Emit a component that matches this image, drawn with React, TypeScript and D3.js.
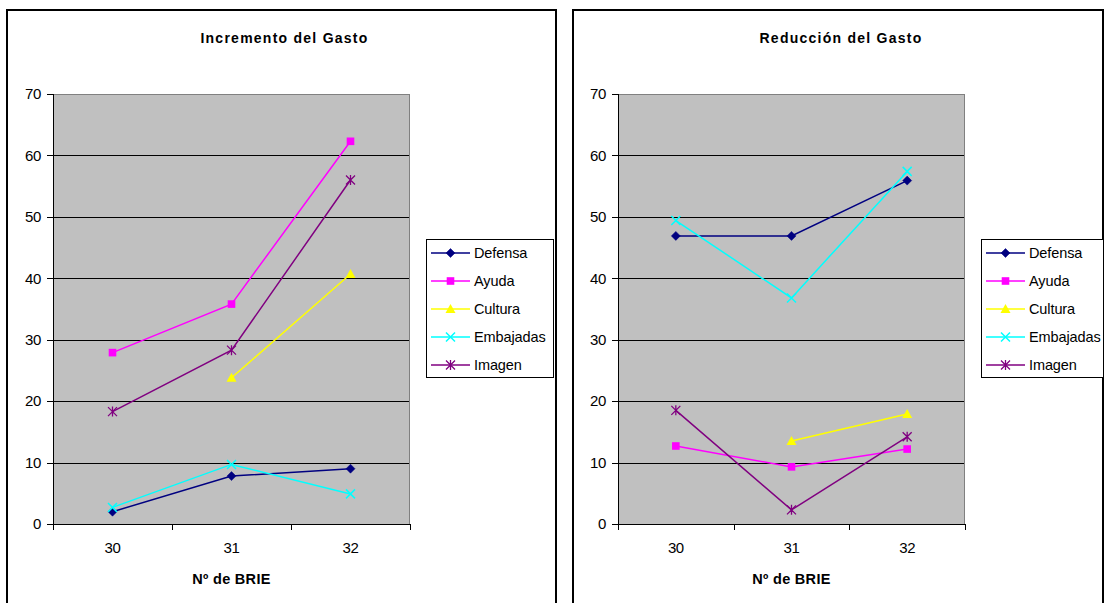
import React from "react";
import * as d3 from "d3";

const categories = ["30", "31", "32"];
const seriesNames = ["Defensa", "Ayuda", "Cultura", "Embajadas", "Imagen"];
const seriesColors = ["#000080", "#FF00FF", "#FFFF00", "#00FFFF", "#800080"];
const seriesMarkers = ["diamond", "square", "triangle", "x", "star"];
const yTicks = [0, 10, 20, 30, 40, 50, 60, 70];

// Incremento del Gasto
const incDefensa = [2.0, 7.8, 9.0];
const incAyuda = [27.9, 35.8, 62.3];
const incCultura = [null, 23.8, 40.7];
const incEmbajadas = [2.7, 9.7, 4.9];
const incImagen = [18.3, 28.3, 56.0];

// Reducción del Gasto
const redDefensa = [46.9, 46.9, 55.9];
const redAyuda = [12.7, 9.3, 12.2];
const redCultura = [null, 13.5, 17.9];
const redEmbajadas = [49.4, 36.8, 57.4];
const redImagen = [18.5, 2.3, 14.2];

const FONT = "'Liberation Sans', Arial, sans-serif";

type P = {
  title: string;
  values: (number | null)[][];
  border: [number, number, number, number];
  plot: [number, number, number, number];
  legend: [number, number, number, number];
};

function Marker({ kind, x, y, color }: { kind: string; x: number; y: number; color: string }) {
  if (kind === "diamond") {
    const s = 4.5;
    return <path d={`M${x},${y - s}L${x + s},${y}L${x},${y + s}L${x - s},${y}Z`} fill={color} stroke={color} strokeWidth={0.5} />;
  }
  if (kind === "square") {
    const s = 3.8;
    return <rect x={x - s} y={y - s} width={2 * s} height={2 * s} fill={color} />;
  }
  if (kind === "triangle") {
    const s = 5;
    return <path d={`M${x},${y - s}L${x + s},${y + s * 0.8}L${x - s},${y + s * 0.8}Z`} fill={color} />;
  }
  if (kind === "x") {
    const s = 4.5;
    return <path d={`M${x - s},${y - s}L${x + s},${y + s}M${x - s},${y + s}L${x + s},${y - s}`} stroke={color} strokeWidth={1.5} fill="none" />;
  }
  const s = 4.5;
  return (
    <path
      d={`M${x - s},${y - s}L${x + s},${y + s}M${x - s},${y + s}L${x + s},${y - s}M${x},${y - s - 0.5}L${x},${y + s + 0.5}`}
      stroke={color}
      strokeWidth={1.3}
      fill="none"
    />
  );
}

function Panel({ title, values, border, plot, legend }: P) {
  const [bx, by, bw, bh] = border;
  const [px, py, pw, ph] = plot;
  const [lx, ly, lw, lh] = legend;
  const x = d3.scaleBand<string>().domain(categories).range([px, px + pw]);
  const y = d3.scaleLinear().domain([0, 70]).range([py + ph, py]);
  const cx = (c: string) => (x(c) as number) + x.bandwidth() / 2;
  const line = d3
    .line<number | null>()
    .defined((d) => d !== null)
    .x((_, i) => cx(categories[i]))
    .y((d) => y(d as number));
  const boundaries = [0, 1, 2, 3].map((i) => px + i * x.bandwidth());
  return (
    <g>
      <rect x={bx} y={by} width={bw} height={bh} fill="#fff" stroke="#000" strokeWidth={2} />
      <text x={bx + bw / 2 + 3} y={42.5} textAnchor="middle" fontFamily={FONT} fontWeight="bold" fontSize={14} letterSpacing={1.25} fill="#000">
        {title}
      </text>
      <rect x={px} y={py} width={pw} height={ph} fill="#C0C0C0" />
      {yTicks.slice(1, -1).map((t) => (
        <line key={t} x1={px} x2={px + pw} y1={Math.round(y(t)) + 0.5} y2={Math.round(y(t)) + 0.5} stroke="#000" strokeWidth={1} />
      ))}
      <line x1={px} x2={px + pw} y1={py + 0.5} y2={py + 0.5} stroke="#808080" />
      <line x1={px + pw - 0.5} x2={px + pw - 0.5} y1={py} y2={py + ph} stroke="#808080" />
      <line x1={px + 0.5} x2={px + 0.5} y1={py} y2={py + ph} stroke="#000" />
      <line x1={px} x2={px + pw} y1={py + ph + 0.5} y2={py + ph + 0.5} stroke="#000" />
      {yTicks.map((t) => (
        <g key={t}>
          <line x1={px - 6} x2={px} y1={Math.round(y(t)) + 0.5} y2={Math.round(y(t)) + 0.5} stroke="#000" />
          <text x={px - 12} y={y(t) + 5.3} textAnchor="end" fontFamily={FONT} fontSize={15} letterSpacing={-0.4} fill="#000">
            {t}
          </text>
        </g>
      ))}
      {boundaries.map((b, i) => (
        <line key={i} x1={Math.round(b) + 0.5} x2={Math.round(b) + 0.5} y1={py + ph} y2={py + ph + 6} stroke="#000" />
      ))}
      {categories.map((c) => (
        <text key={c} x={cx(c)} y={py + ph + 29} textAnchor="middle" fontFamily={FONT} fontSize={15} letterSpacing={-0.4} fill="#000">
          {c}
        </text>
      ))}
      <text x={px + pw / 2} y={583.5} textAnchor="middle" fontFamily={FONT} fontWeight="bold" fontSize={14.5} letterSpacing={0.3} fill="#000">
        Nº de BRIE
      </text>
      {values.map((vals, si) => (
        <g key={si}>
          <path d={line(vals) || ""} fill="none" stroke={seriesColors[si]} strokeWidth={1.5} />
          {vals.map((v, i) =>
            v === null ? null : <Marker key={i} kind={seriesMarkers[si]} x={cx(categories[i])} y={y(v)} color={seriesColors[si]} />
          )}
        </g>
      ))}
      <rect x={lx + 0.5} y={ly + 0.5} width={lw} height={lh} fill="#fff" stroke="#000" strokeWidth={1} />
      {seriesNames.map((n, i) => {
        const yy = ly + 14 + i * 28;
        return (
          <g key={n}>
            <line x1={lx + 5} x2={lx + 44} y1={yy} y2={yy} stroke={seriesColors[i]} strokeWidth={1.5} />
            <Marker kind={seriesMarkers[i]} x={lx + 24.5} y={yy} color={seriesColors[i]} />
            <text x={lx + 48} y={yy + 5.2} fontFamily={FONT} fontSize={14.5} letterSpacing={-0.1} fill="#000">
              {n}
            </text>
          </g>
        );
      })}
    </g>
  );
}

export default function App() {
  return (
    <svg width={1107} height={603} style={{ position: "absolute", left: 0, top: 0, background: "#fff" }}>
      <rect x={0} y={0} width={1107} height={603} fill="#fff" />
      <Panel
        title="Incremento del Gasto"
        values={[incDefensa, incAyuda, incCultura, incEmbajadas, incImagen]}
        border={[7, 10, 549, 600]}
        plot={[53, 94, 357, 430]}
        legend={[426, 239, 127, 138]}
      />
      <Panel
        title="Reducción del Gasto"
        values={[redDefensa, redAyuda, redCultura, redEmbajadas, redImagen]}
        border={[573, 10, 530, 600]}
        plot={[618, 94, 347, 430]}
        legend={[981, 239, 122, 138]}
      />
    </svg>
  );
}
